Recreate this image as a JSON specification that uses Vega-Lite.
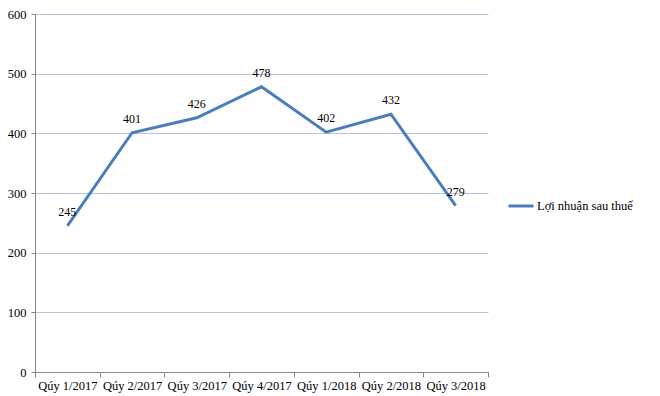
{
  "$schema": "https://vega.github.io/schema/vega-lite/v6.json",
  "width": 453,
  "height": 358,
  "autosize": "none",
  "padding": {"left": 35, "top": 14, "right": 172, "bottom": 24},
  "background": "white",
  "config": {
    "view": {"stroke": null},
    "font": "Times New Roman",
    "axis": {"labelFont": "Times New Roman", "labelFontSize": 12.5, "labelColor": "#000000", "domainColor": "#868686", "tickColor": "#868686", "title": null},
    "legend": {"labelFont": "Times New Roman"},
    "text": {"font": "Times New Roman"}
  },
  "data": {"values": [
    {"q": "Qúy 1/2017", "v": 245, "s": "Lợi  nhuận sau thuế"},
    {"q": "Qúy 2/2017", "v": 401, "s": "Lợi  nhuận sau thuế"},
    {"q": "Qúy 3/2017", "v": 426, "s": "Lợi  nhuận sau thuế"},
    {"q": "Qúy 4/2017", "v": 478, "s": "Lợi  nhuận sau thuế"},
    {"q": "Qúy 1/2018", "v": 402, "s": "Lợi  nhuận sau thuế"},
    {"q": "Qúy 2/2018", "v": 432, "s": "Lợi  nhuận sau thuế"},
    {"q": "Qúy 3/2018", "v": 279, "s": "Lợi  nhuận sau thuế"}
  ]},
  "encoding": {
    "x": {"field": "q", "type": "ordinal", "sort": null, "bandPosition": 0.5,
      "scale": {"type": "band", "paddingInner": 0, "paddingOuter": 0},
      "axis": {"labelAngle": 0, "tickBand": "extent", "tickSize": 5, "labelPadding": 2, "grid": false}},
    "y": {"field": "v", "type": "quantitative",
      "scale": {"domain": [0, 600], "nice": false},
      "axis": {"values": [0, 100, 200, 300, 400, 500, 600], "tickSize": 4, "labelPadding": 5, "grid": true, "gridColor": "#b4c5dc", "gridWidth": 1}}
  },
  "layer": [
    {
      "mark": {"type": "line", "strokeWidth": 3, "color": "#4a7ebb"},
      "encoding": {
        "color": {"field": "s", "type": "nominal", "scale": {"range": ["#4a7ebb"]},
          "legend": {"title": null, "orient": "none", "legendX": 472, "legendY": 178, "symbolType": "stroke", "symbolSize": 625, "symbolStrokeWidth": 3, "labelFont": "Times New Roman", "labelFontSize": 12.5, "labelColor": "#000000", "labelOffset": 2}}
      }
    },
    {
      "mark": {"type": "text", "dy": -14, "fontSize": 12, "font": "Times New Roman", "color": "#000000"},
      "encoding": {"text": {"field": "v", "type": "quantitative"}}
    }
  ]
}
